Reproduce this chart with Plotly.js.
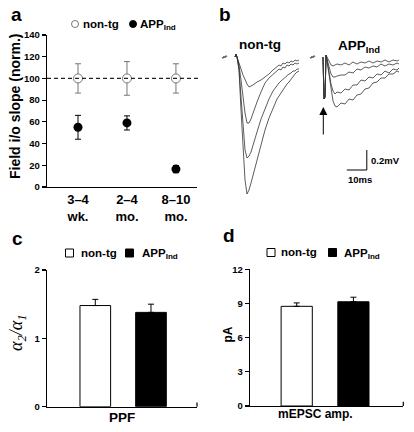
<!DOCTYPE html>
<html>
<head>
<meta charset="utf-8">
<script src="https://cdn.plot.ly/plotly-3.0.1.min.js"></script>
<style>html,body{margin:0;padding:0;background:#fff}#chart{width:414px;height:432px}</style>
</head>
<body>
<div id="chart"></div>
<script>
// ---- Panel a: field i/o slope (normalized) ----
const ageGroups = ['3–4<br>wk.', '2–4<br>mo.', '8–10<br>mo.'];
const nontgSlope = [100, 100, 100];
const nontgSlopeErr = [13.5, 15.5, 13.5];
const appSlope = [55, 59, 16.5];
const appSlopeErr = [11, 6.5, 3.3];

// ---- Panel b: field EPSP traces (ms, mV) ----
const preTime = [-7.5, -7, -6.5, -6, -5.5, -5];
const preVolt = [0, -0.015, 0.01, -0.01, 0.015, 0];
const nontgTime = [-1,-0.5,0,1,2,3,4,5,6,7,8,10,12,14,16,18,20,21,22,23,24,25,26,27,28,29,30,31];
const nontgTrace1 = [0,0.03,0,-0.05,-0.12,-0.18,-0.23,-0.27,-0.30,-0.29,-0.28,-0.25,-0.23,-0.20,-0.17,-0.13,-0.10,-0.08,-0.09,-0.06,-0.07,-0.05,-0.06,-0.04,-0.05,-0.03,-0.04,-0.03];
const nontgTrace2 = [0,0.03,0,-0.08,-0.23,-0.41,-0.56,-0.66,-0.66,-0.62,-0.56,-0.45,-0.35,-0.26,-0.21,-0.17,-0.14,-0.12,-0.13,-0.10,-0.11,-0.08,-0.09,-0.07,-0.08,-0.06,-0.07,-0.06];
const nontgTrace3 = [0,0.03,0,-0.12,-0.40,-0.70,-0.93,-1.01,-0.99,-0.95,-0.89,-0.75,-0.62,-0.51,-0.42,-0.34,-0.28,-0.26,-0.24,-0.22,-0.20,-0.19,-0.17,-0.16,-0.14,-0.14,-0.12,-0.12];
const nontgTrace4 = [0,0.03,0,-0.13,-0.53,-0.93,-1.23,-1.37,-1.33,-1.26,-1.18,-1.02,-0.87,-0.73,-0.61,-0.51,-0.42,-0.39,-0.36,-0.32,-0.30,-0.27,-0.25,-0.22,-0.20,-0.17,-0.15,-0.14];
const appTime = [-1,-0.5,0,0.5,1,2,3,4,5,6,8,10,12,14,16,18,20,22,24,26,28,30,32,34,36,37];
const appTrace1 = [0,-0.42,-0.40,0.02,0,-0.05,-0.08,-0.09,-0.08,-0.07,-0.08,-0.06,-0.08,-0.05,-0.07,-0.05,-0.06,-0.04,-0.06,-0.04,-0.05,-0.03,-0.05,-0.03,-0.04,-0.03];
const appTrace2 = [0,-0.42,-0.40,0.02,-0.02,-0.10,-0.17,-0.20,-0.20,-0.19,-0.18,-0.18,-0.15,-0.16,-0.12,-0.13,-0.10,-0.11,-0.09,-0.10,-0.07,-0.09,-0.07,-0.08,-0.06,-0.07];
const appTrace3 = [0,-0.42,-0.40,0.02,-0.03,-0.15,-0.27,-0.34,-0.37,-0.35,-0.36,-0.32,-0.33,-0.28,-0.28,-0.23,-0.24,-0.20,-0.21,-0.17,-0.18,-0.14,-0.16,-0.12,-0.13,-0.11];
const appTrace4 = [0,-0.42,-0.40,0.02,-0.04,-0.18,-0.33,-0.44,-0.49,-0.50,-0.46,-0.47,-0.42,-0.43,-0.38,-0.37,-0.32,-0.31,-0.26,-0.25,-0.21,-0.21,-0.17,-0.17,-0.14,-0.15];
const scaleBarTime = 10;   // ms
const scaleBarVolt = 0.2;  // mV

// ---- Panels c, d: bar charts ----
const genotypes = ['non-tg', 'APP<sub>Ind</sub>'];
const ppfMean = [1.48, 1.38];
const ppfErr = [0.09, 0.12];
const mepscMean = [8.75, 9.15];
const mepscErr = [0.3, 0.4];
const barColors = ['#ffffff', '#000000'];

// ---- helpers: pixel -> paper ----
const W = 414, H = 432;
const px = x => x / W;
const py = y => 1 - y / H;
const FONT = 'Liberation Sans, Arial, Helvetica, sans-serif';
const bold = (size) => ({family: FONT, size: size, color: '#000', weight: 'bold'});

const traces = [];
// panel a
traces.push({type:'scatter', mode:'markers', x: ageGroups, y: nontgSlope, xaxis:'x', yaxis:'y',
  marker:{symbol:'circle', size:9, color:'#fff', line:{color:'#777', width:1}},
  error_y:{type:'data', array: nontgSlopeErr, color:'#777', thickness:1, width:3}});
traces.push({type:'scatter', mode:'markers', x: ageGroups, y: appSlope, xaxis:'x', yaxis:'y',
  marker:{symbol:'circle', size:9, color:'#000'},
  error_y:{type:'data', array: appSlopeErr, color:'#000', thickness:1, width:3}});
// panel b
const lineStyle = {color:'#333', width:0.8};
[nontgTrace1, nontgTrace2, nontgTrace3, nontgTrace4].forEach(v =>
  traces.push({type:'scatter', mode:'lines', x: nontgTime, y: v, xaxis:'x3', yaxis:'y3', line: lineStyle}));
traces.push({type:'scatter', mode:'lines', x: preTime, y: preVolt, xaxis:'x3', yaxis:'y3', line: lineStyle});
[appTrace1, appTrace2, appTrace3, appTrace4].forEach(v =>
  traces.push({type:'scatter', mode:'lines', x: appTime, y: v, xaxis:'x4', yaxis:'y3', line: lineStyle}));
traces.push({type:'scatter', mode:'lines', x: preTime, y: preVolt, xaxis:'x4', yaxis:'y3', line: lineStyle});
// panel c
traces.push({type:'bar', x: genotypes, y: ppfMean, xaxis:'x5', yaxis:'y5', width:0.55,
  marker:{color: barColors, line:{color:'#000', width:1}},
  error_y:{type:'data', symmetric:false, array: ppfErr, arrayminus:[0,0], color:'#000', thickness:1, width:3}});
// panel d
traces.push({type:'bar', x: genotypes, y: mepscMean, xaxis:'x6', yaxis:'y6', width:0.55,
  marker:{color: barColors, line:{color:'#000', width:1}},
  error_y:{type:'data', symmetric:false, array: mepscErr, arrayminus:[0,0], color:'#000', thickness:1, width:3}});

const yAxisBase = {showline:true, linecolor:'#000', linewidth:1.2, ticks:'outside', ticklen:4, tickwidth:1.2,
  tickcolor:'#000', showgrid:false, zeroline:false, tickfont: bold(9.5), fixedrange:true};
const xAxisBase = {showline:true, linecolor:'#000', linewidth:1.2, ticks:'', showgrid:false, zeroline:false, fixedrange:true};

const layout = {
  width: W, height: H, margin:{l:0, r:0, t:0, b:0}, showlegend:false,
  paper_bgcolor:'#fff', plot_bgcolor:'rgba(0,0,0,0)', font:{family: FONT, color:'#000'},
  xaxis: Object.assign({}, xAxisBase, {domain:[px(47), px(197)], range:[-0.633, 2.43], type:'category', anchor:'y',
    tickfont: bold(13)}),
  yaxis: Object.assign({}, yAxisBase, {domain:[py(187), py(35)], range:[0, 140], dtick:20, anchor:'x'}),
  xaxis3: {domain:[px(221), px(313)], range:[-8, 38], visible:false, anchor:'y3', fixedrange:true},
  xaxis4: {domain:[px(309), px(401)], range:[-8, 38], visible:false, anchor:'y3', fixedrange:true},
  yaxis3: {domain:[py(200), py(50)], range:[-1.43, 0.07], visible:false, anchor:'x3', fixedrange:true},
  xaxis5: Object.assign({}, xAxisBase, {domain:[px(47), px(197)], range:[-0.867, 1.826], type:'category', anchor:'y5', showticklabels:false}),
  yaxis5: Object.assign({}, yAxisBase, {domain:[py(406.7), py(270)], range:[0, 2], dtick:1, anchor:'x5'}),
  xaxis6: Object.assign({}, xAxisBase, {domain:[px(250), px(403.3)], range:[-0.824, 1.88], type:'category', anchor:'y6', showticklabels:false}),
  yaxis6: Object.assign({}, yAxisBase, {domain:[py(406), py(269.3)], range:[0, 12], dtick:3, anchor:'x6'}),
  shapes: [
    // dashed 100% reference line (panel a)
    {type:'line', xref:'paper', yref:'y', x0:px(47), x1:px(200), y0:100, y1:100, line:{color:'#222', width:1.2, dash:'4px,3px'}},
    // scale bars (panel b)
    {type:'line', xref:'x4', yref:'y3', x0:10.9, x1:10.9 + scaleBarTime, y0:-1.13, y1:-1.13, line:{color:'#000', width:1}},
    {type:'line', xref:'x4', yref:'y3', x0:10.9 + scaleBarTime, x1:10.9 + scaleBarTime, y0:-1.13, y1:-1.13 + scaleBarVolt, line:{color:'#000', width:1}},
    // right-end ticks on bar chart x axes
    {type:'line', xref:'paper', yref:'paper', x0:px(197), x1:px(197), y0:py(406.7), y1:py(402.5), line:{color:'#000', width:1.2}},
    {type:'line', xref:'paper', yref:'paper', x0:px(403.3), x1:px(403.3), y0:py(406), y1:py(401.8), line:{color:'#000', width:1.2}},
    // legend markers panel a
    {type:'circle', xref:'paper', yref:'paper', x0:px(71.5), x1:px(78.5), y0:py(27.5), y1:py(20.5), line:{color:'#777', width:1}, fillcolor:'#fff'},
    {type:'circle', xref:'paper', yref:'paper', x0:px(129.5), x1:px(136.5), y0:py(27.5), y1:py(20.5), line:{color:'#000', width:1}, fillcolor:'#000'},
    // legend markers panel c
    {type:'rect', xref:'paper', yref:'paper', x0:px(65.5), x1:px(73.5), y0:py(257), y1:py(249), line:{color:'#000', width:1}, fillcolor:'#fff'},
    {type:'rect', xref:'paper', yref:'paper', x0:px(125.5), x1:px(133.5), y0:py(257), y1:py(249), line:{color:'#000', width:1}, fillcolor:'#000'},
    // legend markers panel d
    {type:'rect', xref:'paper', yref:'paper', x0:px(267), x1:px(275), y0:py(256.5), y1:py(248.5), line:{color:'#000', width:1}, fillcolor:'#fff'},
    {type:'rect', xref:'paper', yref:'paper', x0:px(328.5), x1:px(336.5), y0:py(256.5), y1:py(248.5), line:{color:'#000', width:1}, fillcolor:'#000'}
  ],
  annotations: [
    // panel letters
    {text:'a', x:px(16), y:py(15), font:bold(19)},
    {text:'b', x:px(225), y:py(14), font:bold(19)},
    {text:'c', x:px(17), y:py(238), font:bold(19)},
    {text:'d', x:px(229), y:py(235), font:bold(19)},
    // panel a
    {text:'non-tg', x:px(80.5), y:py(24), xanchor:'left', font:bold(11.5)},
    {text:'APP<sub>Ind</sub>', x:px(138), y:py(25), xanchor:'left', font:bold(11.5)},
    {text:'Field i/o slope (norm.)', x:px(15), y:py(107), textangle:-90, font:bold(14)},
    // panel b
    {text:'non-tg', x:px(260), y:py(45), font:bold(13.5)},
    {text:'APP<sub>Ind</sub>', x:px(336), y:py(46), xanchor:'left', font:bold(13.5)},
    {text:'0.2mV', x:22.2, y:-1.03, xref:'x4', yref:'y3', xanchor:'left', font:bold(9.5)},
    {text:'10ms', x:10.6, y:-1.22, xref:'x4', yref:'y3', xanchor:'left', font:bold(9.5)},
    {text:'', x:-0.85, y:-0.50, xref:'x4', yref:'y3', ax:-0.85, ay:-0.79, axref:'x4', ayref:'y3',
      showarrow:true, arrowhead:2, arrowsize:1.6, arrowwidth:1, arrowcolor:'#000'},
    // panel c
    {text:'non-tg', x:px(78.5), y:py(253), xanchor:'left', font:bold(11.5)},
    {text:'APP<sub>Ind</sub>', x:px(139.5), y:py(254), xanchor:'left', font:bold(11.5)},
    {text:'<i>α<sub>2</sub>/α<sub>1</sub></i>', x:px(17), y:py(333), textangle:-90, font:{family:'Liberation Serif, Times New Roman, serif', size:18, color:'#000'}},
    {text:'PPF', x:px(122), y:py(417), font:bold(13.5)},
    // panel d
    {text:'non-tg', x:px(279), y:py(252.5), xanchor:'left', font:bold(11.5)},
    {text:'APP<sub>Ind</sub>', x:px(341.5), y:py(253.5), xanchor:'left', font:bold(11.5)},
    {text:'pA', x:px(227.5), y:py(335), textangle:-90, font:bold(12)},
    {text:'mEPSC amp.', x:px(315), y:py(414), font:bold(12)}
  ].map(a => Object.assign({xref:'paper', yref:'paper', showarrow:false, xanchor:'center', yanchor:'middle'}, a))
};

Plotly.newPlot('chart', traces, layout, {staticPlot:true, displayModeBar:false});
</script>
</body>
</html>
